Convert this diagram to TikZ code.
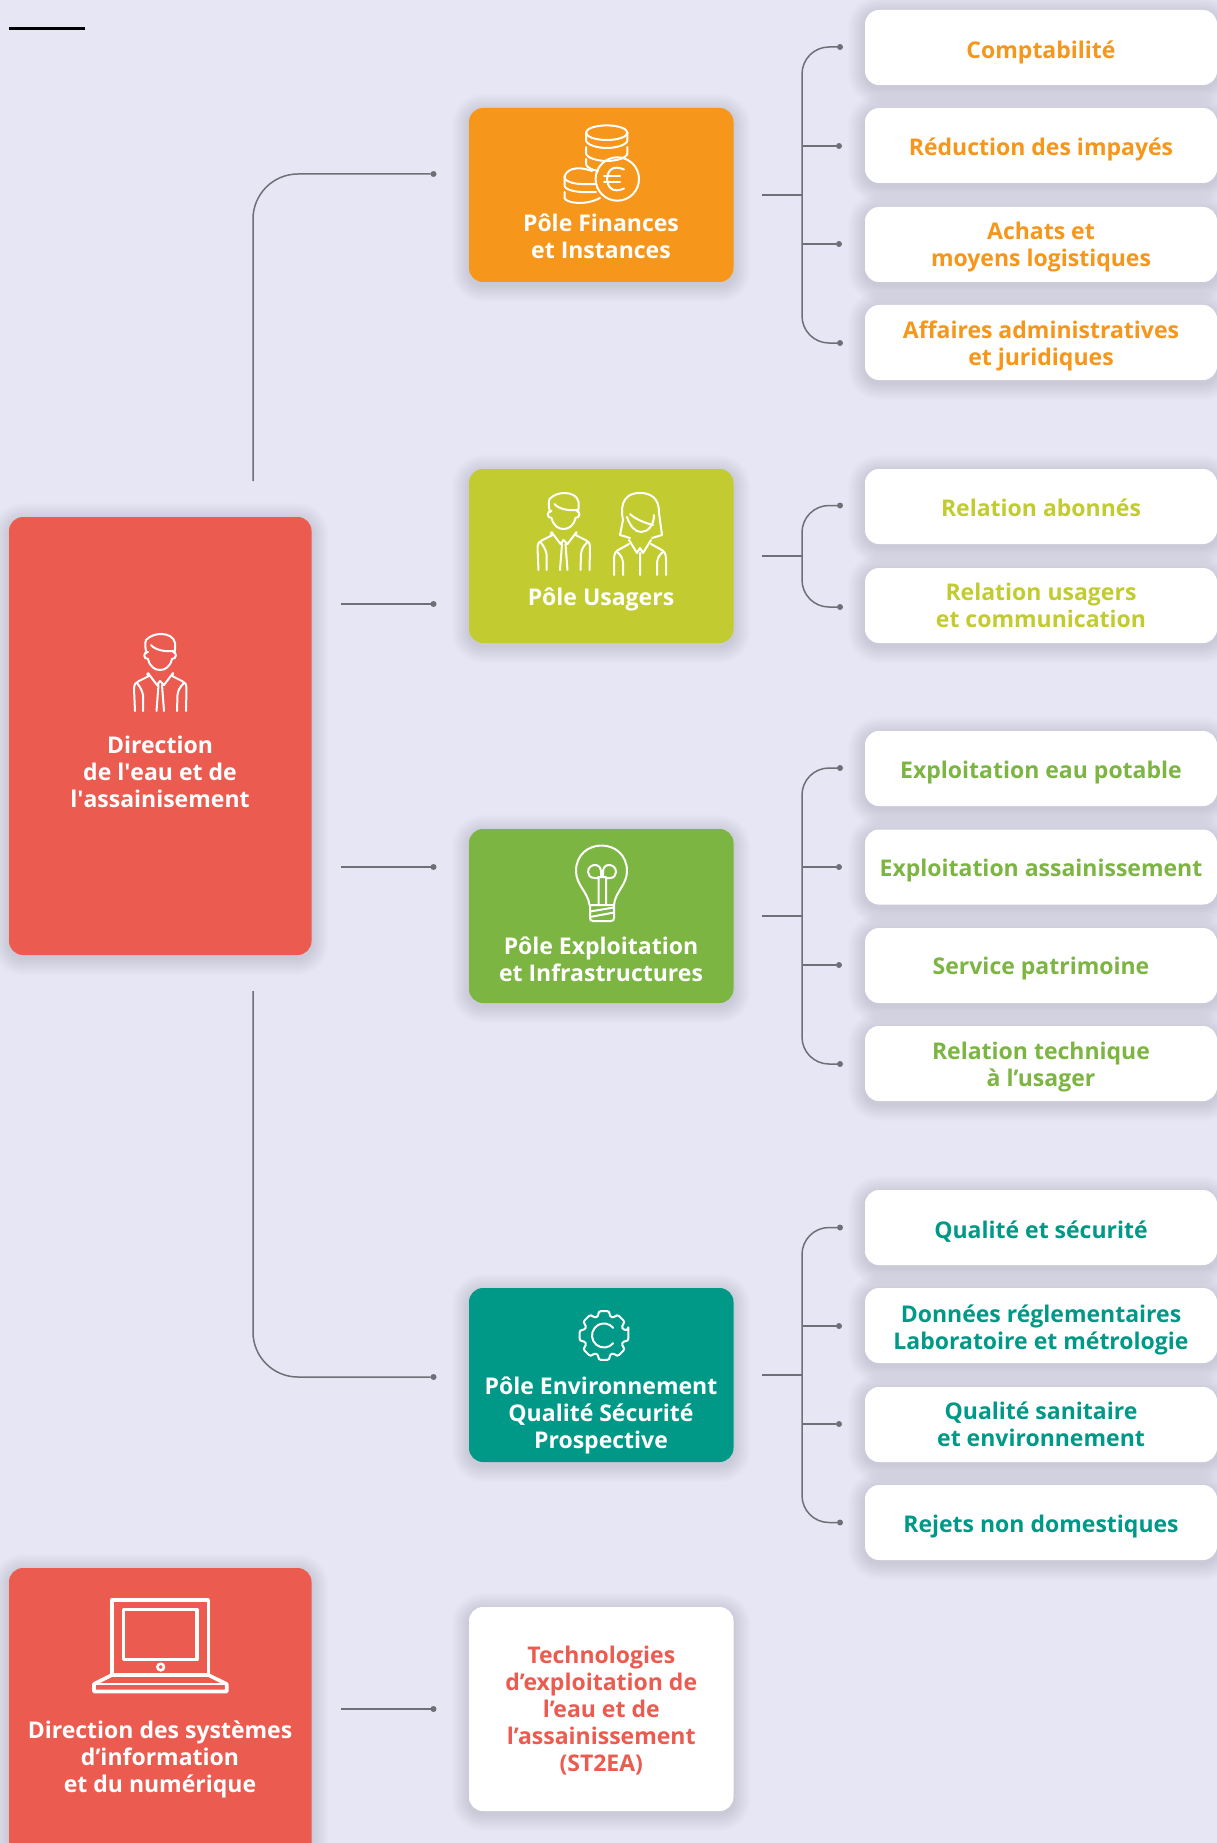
\documentclass[tikz,border=0pt]{standalone}
\usepackage{fontspec}
\setmainfont{Open Sans}
\definecolor{bgc}{HTML}{E7E6F4}
\definecolor{linec}{HTML}{6F6F78}
\definecolor{redc}{HTML}{EC5B50}
\definecolor{orangec}{HTML}{F6961A}
\definecolor{limec}{HTML}{C2CC30}
\definecolor{greenc}{HTML}{7CB542}
\definecolor{tealc}{HTML}{009987}
\definecolor{shadowc}{HTML}{70708A}
\tikzset{
  card/.style={rectangle,rounded corners=14pt,inner sep=0pt,outer sep=0pt,align=center,font=\fontsize{23}{27}\selectfont\bfseries},
  cardtext/.style={inner sep=0pt,outer sep=0pt,align=center,text=white,font=\fontsize{23}{27}\selectfont\bfseries},
  conn/.style={draw=linec,line width=1.5pt},
  smallbend/.style={conn,rounded corners=27pt},
  bigbend/.style={conn,rounded corners=45pt},
  dotn/.style={circle,fill=linec,minimum size=6pt,inner sep=0pt,outer sep=0pt},
  icon/.style={draw=white,line width=2pt,line cap=round,line join=round},
  pics/person/.style={code={
    \draw[icon] (-13.5,19) .. controls (-15,14) and (-15,9) .. (-14,6) .. controls (-10,2) and (-5,0) .. (1,0) .. controls (8,0) and (14,3) .. (15,9) .. controls (15.5,12) and (15,16) .. (14.5,19);
    \draw[icon] (-9,11) .. controls (-5,16) and (5,18) .. (14.5,17);
    \draw[icon] (-12,18) .. controls (-17,18) and (-17,25) .. (-12,25) .. controls (-10,33) and (-5,36) .. (0,36) .. controls (5,36) and (10,33) .. (12,25) .. controls (17,25) and (17,18) .. (13,18);
    \draw[icon] (-25,77) -- (-26,55) .. controls (-26,50) and (-24,48) .. (-21,47) -- (-11,42) -- (-13,40) (26,77) -- (26.5,55) .. controls (26.5,50) and (25,48) .. (22,47) -- (12,42) -- (13,40);
    \draw[icon] (-17,77) -- (-17,61) .. controls (-18,56) and (-20,53) .. (-23,49) (17,77) -- (17.5,61) .. controls (18,56) and (20,53) .. (24,49);
    \draw[icon] (-12,39) -- (-3,51) -- (0,47) -- (4,51) -- (13,39) (-3.5,77) -- (-1.5,51) (4,77) -- (2,51);
  }},
  pics/woman/.style={code={
    \draw[icon] (-20,42) -- (-17,27) .. controls (-19,18) and (-20,0) .. (0,0) .. controls (17,0) and (19,12) .. (19,20) -- (22,42) -- (12,45);
    \draw[icon] (-20,42) -- (-10,45);
    \draw[icon] (-10,21) .. controls (-5,26) and (5,30) .. (13,32);
    \draw[icon] (-13,24) .. controls (-10,33) and (-5,39) .. (1,39) .. controls (8,39) and (14,32) .. (14,22);
    \draw[icon] (-26,82) -- (-26,66) .. controls (-26,60) and (-24,58) .. (-20,56) -- (-11,51) (26,82) -- (26,66) .. controls (26,60) and (24,58) .. (20,56) -- (11,51);
    \draw[icon] (-17,82) -- (-17,69) .. controls (-18,64) and (-20,61) .. (-23,59) (17,82) -- (17,69) .. controls (18,64) and (20,61) .. (23,59);
    \draw[icon] (-11,47) -- (-3,60) -- (0,55) -- (3,60) -- (11,47) (0,60) -- (0,82);
  }},
}
\newcommand\softshade[4]{%
  \foreach \i in {1,...,14}{%
    \fill[shadowc,opacity=.016,rounded corners={14+\i*1.2}] ({#1-\i*1.2},{#2-\i*1.2+3}) rectangle ({#3+\i*1.2},{#4+\i*1.2+3});
  }}
% name, x1, y1, x2, y2, node options, text
\newcommand\cardbox[7]{%
  \softshade{#2}{#3}{#4}{#5}%
  \pgfmathsetmacro\cw{#4-#2}\pgfmathsetmacro\ch{#5-#3}%
  \pgfmathsetmacro\cx{(#2+#4)/2}\pgfmathsetmacro\cy{(#3+#5)/2}%
  \node[card,minimum width=\cw pt,minimum height=\ch pt,#6] (#1) at (\cx,\cy) {#7};}
\newcommand\lowered[2]{\raisebox{\dimexpr-#1pt-5.75pt\relax}[0pt][0pt]{\begin{tabular}{@{}c@{}}#2\end{tabular}}}
\begin{document}
\begin{tikzpicture}[x=1pt,y=-1pt]
\useasboundingbox (0,0) rectangle (1217,1843);
\clip (0,0) rectangle (1217,1843);
\fill[bgc] (0,0) rectangle (1217,1843);
\draw[black,line width=3.6pt] (9,28.7) -- (85,28.7);

% main cards
\cardbox{dirA}{9}{517}{311.5}{955}{fill=redc}{}
\cardbox{dirB}{9}{1568}{311.5}{1866}{fill=redc}{}
\cardbox{polF}{469}{108}{733.5}{282}{fill=orangec}{}
\cardbox{polU}{469}{469}{733.5}{643}{fill=limec}{}
\cardbox{polE}{469}{829}{733.5}{1003}{fill=greenc}{}
\cardbox{polQ}{469}{1288}{733.5}{1462}{fill=tealc}{}
\cardbox{tech}{469}{1607}{733.5}{1811}{fill=white,text=redc}{\lowered{4}{Technologies\\d’exploitation de\\l’eau et de\\l’assainissement\\(ST2EA)}}

\node[cardtext] (tA) at (160,772) {Direction\\de l\textquotesingle eau et de\\l\textquotesingle assainisement};
\node[cardtext] (tB) at (160,1759) {Direction des systèmes\\d’information\\et du numérique};
\node[cardtext] (tF) at (601,236) {Pôle Finances\\et Instances};
\node[cardtext] (tU) at (601,599.5) {Pôle Usagers};
\node[cardtext] (tE) at (601,959) {Pôle Exploitation\\et Infrastructures};
\node[cardtext] (tQ) at (601,1415) {Pôle Environnement\\Qualité Sécurité\\Prospective};

% right cards
\foreach \n/\a/\b/\c/\d/\t in {
 f1/10/85/orangec/6/Comptabilité,
 f2/108/183/orangec/4.7/Réduction des impayés,
 f3/207/282/orangec/3.5/{Achats et\\moyens logistiques},
 f4/305/380/orangec/4.7/{Affaires administratives\\et juridiques},
 u1/469/544/limec/5.3/Relation abonnés,
 u2/568/643/limec/3.5/{Relation usagers\\et communication},
 e1/731/806/greenc/5.3/Exploitation eau potable,
 e2/829.5/904.5/greenc/4.7/Exploitation assainissement,
 e3/928/1003/greenc/4/Service patrimoine,
 e4/1026/1101/greenc/4.7/{Relation technique\\à l’usager},
 q1/1190/1265/tealc/6/Qualité et sécurité,
 q2/1288/1363/tealc/5.3/{Données réglementaires\\Laboratoire et métrologie},
 q3/1387/1462/tealc/3.5/{Qualité sanitaire\\et environnement},
 q4/1485/1560/tealc/4.7/Rejets non domestiques}{
  \cardbox{box\n}{865}{\a}{1217}{\b}{fill=white,text=\c}{\lowered{\d}{\t}}
}

% main connectors
\coordinate (aUp) at (253,481);
\coordinate (aUpC) at (253,174);
\coordinate (aDn) at (253,991);
\coordinate (aDnC) at (253,1377);
\coordinate (aS2) at (341,604);
\coordinate (aS3) at (341,867);
\coordinate (bS) at (341,1709);
\node[dotn] (dF) at (433.5,174) {};
\node[dotn] (dU) at (433.5,604) {};
\node[dotn] (dE) at (433.5,867) {};
\node[dotn] (dQ) at (433.5,1377) {};
\node[dotn] (dT) at (433.5,1709) {};
\draw[bigbend] (aUp) -- (aUpC) -- (dF);
\draw[bigbend] (aDn) -- (aDnC) -- (dQ);
\draw[conn] (aS2) -- (dU);
\draw[conn] (aS3) -- (dE);
\draw[conn] (bS) -- (dT);

% branches: stem start, junction, corners, leaves
\coordinate (fS) at (762,195); \coordinate (fJ) at (802,195);
\coordinate (fT) at (802,47); \coordinate (fB) at (802,343);
\coordinate (f2J) at (802,146); \coordinate (f3J) at (802,244);
\node[dotn] (d1) at (840,47) {}; \node[dotn] (d2) at (839,146) {}; \node[dotn] (d3) at (839,244) {}; \node[dotn] (d4) at (840,343) {};
\draw[conn] (fS) -- (fJ); \draw[conn] (f2J) -- (d2); \draw[conn] (f3J) -- (d3);
\draw[smallbend] (d1) -- (fT) -- (fB) -- (d4);

\coordinate (uS) at (762,556); \coordinate (uJ) at (802,556);
\coordinate (uT) at (802,505.5); \coordinate (uB) at (802,607);
\node[dotn] (d5) at (840,505.5) {}; \node[dotn] (d6) at (840,607) {};
\draw[conn] (uS) -- (uJ);
\draw[smallbend] (d5) -- (uT) -- (uB) -- (d6);

\coordinate (eS) at (762,916); \coordinate (eJ) at (802,916);
\coordinate (eT) at (802,768); \coordinate (eB) at (802,1064);
\coordinate (e2J) at (802,867); \coordinate (e3J) at (802,965);
\node[dotn] (d7) at (840,768) {}; \node[dotn] (d8) at (839,867) {}; \node[dotn] (d9) at (839,965) {}; \node[dotn] (d10) at (840,1064) {};
\draw[conn] (eS) -- (eJ); \draw[conn] (e2J) -- (d8); \draw[conn] (e3J) -- (d9);
\draw[smallbend] (d7) -- (eT) -- (eB) -- (d10);

\coordinate (qS) at (762,1375); \coordinate (qJ) at (802,1375);
\coordinate (qT) at (802,1227.5); \coordinate (qB) at (802,1522.5);
\coordinate (q2J) at (802,1326); \coordinate (q3J) at (802,1424);
\node[dotn] (d11) at (840,1227.5) {}; \node[dotn] (d12) at (839,1326) {}; \node[dotn] (d13) at (839,1424) {}; \node[dotn] (d14) at (840,1522.5) {};
\draw[conn] (qS) -- (qJ); \draw[conn] (q2J) -- (d12); \draw[conn] (q3J) -- (d13);
\draw[smallbend] (d11) -- (qT) -- (qB) -- (d14);

% icons
\pic at (160,634) {person};
\begin{scope}[shift={(563.5,493)},scale=1.06]\pic {person};\end{scope}
\pic at (640,493) {woman};

% coins
\begin{scope}[icon]
\draw (606.7,132.7) ellipse (20.7 and 7.3);
\draw (586,132.7) -- (586,140) .. controls (586,145) and (598,148) .. (606.7,148) .. controls (616,148) and (627.4,145) .. (627.4,140) -- (627.4,132.7);
\draw (586,147) -- (586,153) .. controls (586,158) and (598,161) .. (606.7,161) .. controls (616,161) and (627.4,158) .. (627.4,153) -- (627.4,147);
\draw (586,159) -- (586,164) .. controls (586,167) and (592,170) .. (598,171);
\draw (592,171) .. controls (575,165) and (566,170) .. (564.5,177) .. controls (565,183) and (578,185) .. (595,184);
\draw (564.5,177) -- (564.5,186) .. controls (566,191) and (580,193) .. (596,192);
\draw (564.5,192) -- (564.5,198) .. controls (566,203) and (585,206) .. (600,198);
\draw (617.3,179) circle (21.7);
\draw (624,169.5) .. controls (612,164) and (607,172) .. (607,179) .. controls (607,186) and (612,194) .. (624,188.5);
\draw (604,176.5) -- (620,176.5) (604,182) -- (620,182);
\end{scope}

% bulb
\begin{scope}[icon]
\draw (589.5,905) .. controls (588,892) and (576,885) .. (576,871) .. controls (576,855) and (588,845.5) .. (601.5,845.5) .. controls (615,845.5) and (627,855) .. (627,871) .. controls (627,885) and (615,892) .. (614,905) -- cycle;
\draw (590,905) -- (590,918) .. controls (590,920) and (591,921) .. (593,921) -- (611,921) .. controls (613,921) and (614,920) .. (614,918) -- (614,905);
\draw (590,911.5) -- (614,907.5) (590,917) -- (614,912.5);
\draw (598.5,905) -- (598.5,878) -- (595,878) .. controls (590,878) and (588,875) .. (588,872) .. controls (588,867) and (592,865) .. (595,865) .. controls (599,865) and (601,868) .. (601,872) -- (601,877);
\draw (606,905) -- (606,878) -- (610,878) .. controls (614,878) and (616,875) .. (616,872) .. controls (616,867) and (612,865) .. (609,865) .. controls (605,865) and (603,868) .. (603,872) -- (603,877) (598,877) -- (606,877);
\end{scope}

% gear
\begin{scope}[shift={(604,1335.5)}]
\draw[icon,rounded corners=2.5pt] (-13:25) \foreach \a in {0,45,...,315}{ -- (\a-13:25) -- (\a+13:25) -- (\a+16:20) -- (\a+29:20)} -- cycle;
\draw[icon] (40:12) arc[start angle=40,end angle=320,radius=12];
\end{scope}

% laptop
\begin{scope}[icon,line width=3.6pt,line join=round]
\draw (111.7,1675) -- (111.7,1600) -- (208.3,1600) -- (208.3,1675);
\draw (123.3,1609.5) rectangle (196.7,1659.5);
\draw[line width=2.6pt] (160.7,1667) circle (3.3);
\draw (94,1684) -- (111.7,1675) -- (208.3,1675) -- (226.7,1684) -- (226.7,1691.5) -- (94,1691.5) -- cycle;
\draw[line width=2pt] (94,1684) -- (226.7,1684);
\end{scope}
\end{tikzpicture}
\end{document}
